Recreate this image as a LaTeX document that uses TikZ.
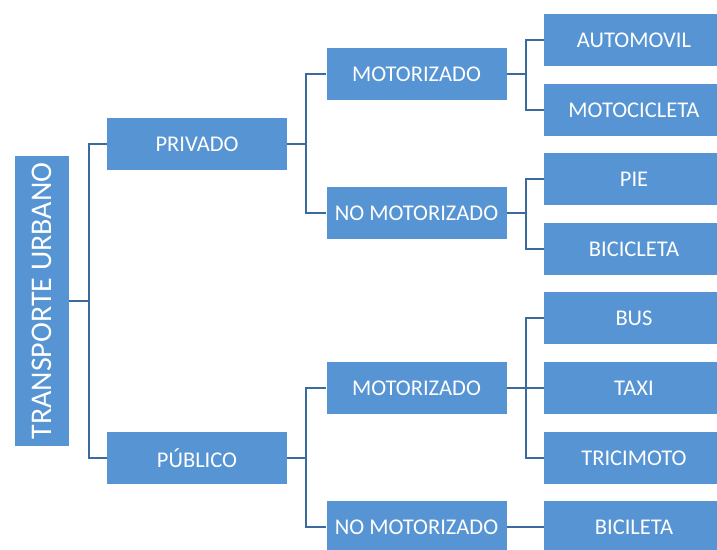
\documentclass[tikz,border=0pt]{standalone}
\usepackage{fontspec}
\setmainfont{Carlito}
\usetikzlibrary{positioning}
\definecolor{BoxBlue}{RGB}{86,148,211}
\definecolor{LinkBlue}{RGB}{58,106,158}
\tikzset{
  box/.style={rectangle, fill=BoxBlue, text=white, inner sep=0pt, minimum width=180pt, minimum height=52pt, font=\fontsize{22.5}{25}\selectfont},
  link/.style={-, draw=LinkBlue, line width=2pt}
}

\begin{document}
\begin{tikzpicture}[x=1pt, y=-1pt]
  \useasboundingbox (0,0) rectangle (717,549);
  \clip (0,0) rectangle (717,549);
  \node[box, minimum width=54pt, minimum height=290pt, font=\fontsize{30}{33}\selectfont] (n0) at (41.5, 301) {\rotatebox{90}{TRANSPORTE URBANO}};
  % first level
  \node[box] (n1) at (197, 144) {PRIVADO};
  \draw[link] (n0.east) -- ++(20,0) |- (n1.west);
  \node[box] (n2) at (197, 458) {PÚBLICO};
  \draw[link] (n0.east) -- ++(20,0) |- (n2.west);
  % second level
  \node[box] (n3) at (416.5, 74) {MOTORIZADO};
  \draw[link] (n1.east) -- ++(19,0) |- (n3.west);
  \node[box] (n4) at (416.5, 213) {NO MOTORIZADO};
  \draw[link] (n1.east) -- ++(19,0) |- (n4.west);
  \node[box] (n5) at (416.5, 388) {MOTORIZADO};
  \draw[link] (n2.east) -- ++(19,0) |- (n5.west);
  \node[box] (n6) at (416.5, 527) {NO MOTORIZADO};
  \draw[link] (n2.east) -- ++(19,0) |- (n6.west);
  % leaves
  \node[box] (n7) at (634, 40) {AUTOMOVIL};
  \draw[link] (n3.east) -- ++(19,0) |- (n7.west);
  \node[box] (n8) at (634, 110) {MOTOCICLETA};
  \draw[link] (n3.east) -- ++(19,0) |- (n8.west);
  \node[box] (n9) at (634, 179) {PIE};
  \draw[link] (n4.east) -- ++(19,0) |- (n9.west);
  \node[box] (n10) at (634, 249) {BICICLETA};
  \draw[link] (n4.east) -- ++(19,0) |- (n10.west);
  \node[box] (n11) at (634, 318) {BUS};
  \draw[link] (n5.east) -- ++(19,0) |- (n11.west);
  \node[box] (n12) at (634, 388) {TAXI};
  \draw[link] (n5.east) -- (n12.west);
  \node[box] (n13) at (634, 458) {TRICIMOTO};
  \draw[link] (n5.east) -- ++(19,0) |- (n13.west);
  \node[box] (n14) at (634, 527) {BICILETA};
  \draw[link] (n6.east) -- (n14.west);
\end{tikzpicture}
\end{document}
